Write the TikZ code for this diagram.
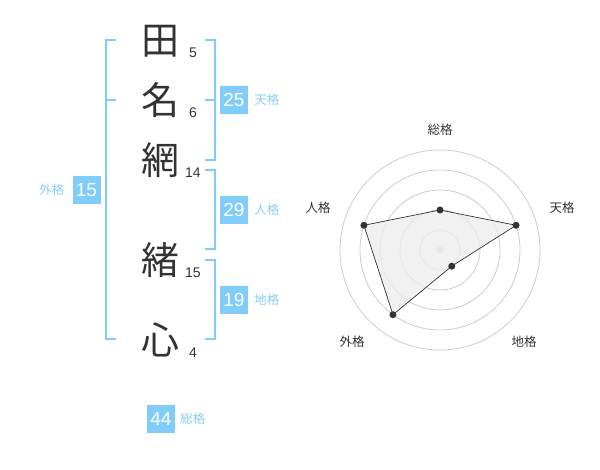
\documentclass[tikz,border=0pt]{standalone}
\usepackage{fontspec}
\usetikzlibrary{positioning}
\setmainfont{Liberation Sans}
\newfontfamily\jpfont{Noto Sans CJK JP}
\definecolor{sky}{RGB}{128,204,250}
\definecolor{skytext}{RGB}{138,206,245}
\definecolor{ink}{RGB}{51,51,51}
\definecolor{ring}{RGB}{204,204,204}
\tikzset{
  kanji/.style={inner sep=0pt, text=ink, font=\jpfont\fontsize{38}{38}\selectfont},
  stroke/.style={inner sep=0pt, text=ink, font=\fontsize{14}{14}\selectfont},
  box/.style={fill=sky, text=white, minimum size=28pt, inner sep=0pt, font=\fontsize{19}{19}\selectfont},
  lbl/.style={inner sep=0pt, text=skytext, font=\jpfont\fontsize{12.5}{12.5}\selectfont},
  axis/.style={inner sep=0pt, text=ink, font=\jpfont\fontsize{12.5}{12.5}\selectfont},
  brace/.style={draw=sky, line width=2pt},
  dot/.style={circle, fill=ink, inner sep=0pt, minimum size=7pt}
}
\begin{document}
\begin{tikzpicture}[x=1pt, y=-1pt]
    \useasboundingbox (0,0) rectangle (600,470);
    \begin{scope}
      % name
      \node[kanji] (k1) at (160,41)  {田};
      \node[kanji] (k2) at (160,100) {名};
      \node[kanji] (k3) at (160,160) {網};
      \node[kanji] (k4) at (160,260) {緒};
      \node[kanji] (k5) at (160,340) {心};
      \node[stroke] (s1) at (193,53)  {5};
      \node[stroke] (s2) at (193,113) {6};
      \node[stroke] (s3) at (193,173) {14};
      \node[stroke] (s4) at (193,273) {15};
      \node[stroke] (s5) at (193,353) {4};
      % brackets
      \draw[brace] (116,40) -- (105.5,40) -- (105.5,339) -- (116,339);
      \draw[brace] (105.5,100) -- (116,100);
      \draw[brace] (205,40) -- (215,40) -- (215,160) -- (205,160);
      \draw[brace] (205,100) -- (215,100);
      \draw[brace] (205,170) -- (215,170) -- (215,249) -- (205,249);
      \draw[brace] (205,260) -- (215,260) -- (215,339) -- (205,339);
      % scores
      \node[box] (ten) at (234,100) {25};
      \node[lbl, right=6pt of ten] {天格};
      \node[box] (jin) at (234,210) {29};
      \node[lbl, right=6pt of jin] {人格};
      \node[box] (chi) at (234,300) {19};
      \node[lbl, right=6pt of chi] {地格};
      \node[box] (gai) at (86.5,190) {15};
      \node[lbl, left=8pt of gai] {外格};
      \node[box] (sou) at (161,419) {44};
      \node[lbl, right=5pt of sou] {総格};
    \end{scope}
    \begin{scope}
      % radar
      \coordinate (c) at (440,250);
      \foreach \r in {20,40,...,100}
        \draw[ring, line width=0.8pt] (c) circle[radius=\r pt];
      \fill[ring] (c) circle[radius=3.5pt];
      \path (c) ++(-90:40) coordinate (pSou)
            (c) ++(-18:80) coordinate (pTen)
            (c) ++(54:20)  coordinate (pChi)
            (c) ++(126:80) coordinate (pGai)
            (c) ++(198:80) coordinate (pJin);
      \draw[ink, line width=0.7pt, fill=black!7, fill opacity=0.8]
        (pSou) -- (pTen) -- (pChi) -- (pGai) -- (pJin) -- cycle;
      \foreach \p in {pSou,pTen,pChi,pGai,pJin}
        \node[dot] at (\p) {};
      \node[axis] (aSou) at (440,130) {総格};
      \node[axis] (aTen) at (562,208) {天格};
      \node[axis] (aChi) at (524,342) {地格};
      \node[axis] (aGai) at (352,342) {外格};
      \node[axis] (aJin) at (318,208) {人格};
    \end{scope}
  \end{tikzpicture}
\end{document}
